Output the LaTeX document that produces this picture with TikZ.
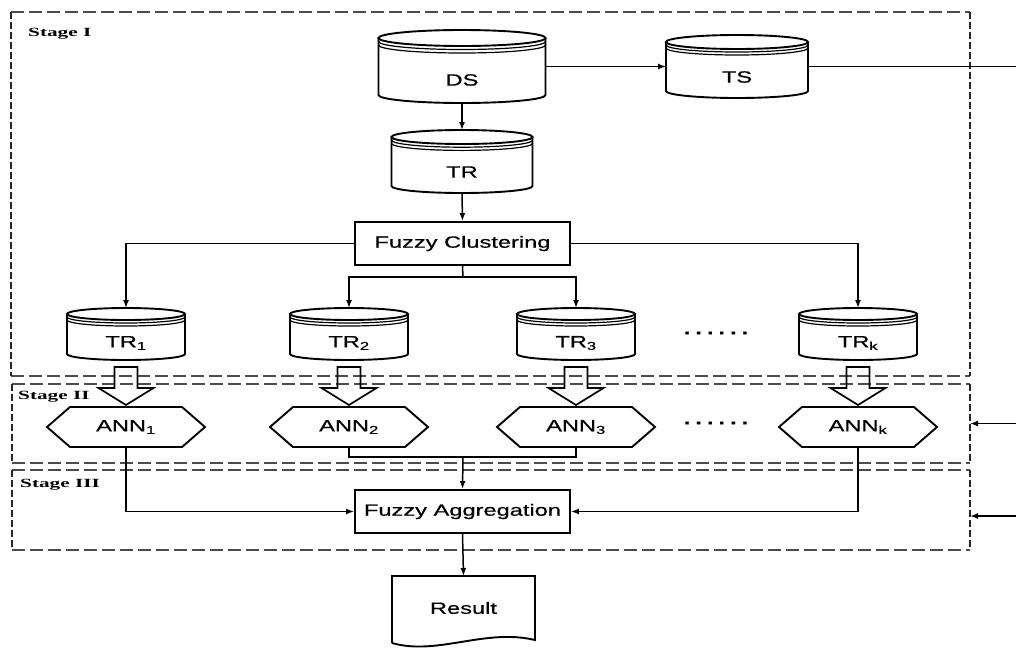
\documentclass[tikz,border=0pt]{standalone}
\usepackage{fontspec}
\newfontfamily\diagsans[FakeStretch=1.45,FakeBold=0.6]{Liberation Sans}
\newfontfamily\diagserif[FakeStretch=1.7]{Liberation Serif}
\usetikzlibrary{calc,arrows.meta}
\begin{document}
\begin{tikzpicture}[x=1pt,y=1pt,
  outl/.style={line width=1.9pt, draw=black},
  conn/.style={line width=1.5pt, draw=black},
  arr/.style={conn, -{Latex[length=8pt,width=6pt]}},
  ghost/.style={rectangle, inner sep=0pt, outer sep=0pt, draw=none},
  txt/.style={font=\diagsans\fontsize{16.3}{18}\selectfont, inner sep=1pt},
  procbox/.style={rectangle, outl, inner sep=0pt, font=\diagsans\fontsize{16.3}{18}\selectfont},
  stg/.style={font=\diagserif\bfseries\fontsize{12.5}{14}\selectfont, anchor=west, inner sep=0pt},
  hdash/.style={line width=2.2pt, draw=black!70, dash pattern=on 13pt off 5pt},
  vdash/.style={line width=2.2pt, draw=black!85, dash pattern=on 7pt off 3pt},
  hollow/.style={line width=1.7pt, draw=black, line join=miter},
]
\useasboundingbox (0,0) rectangle (1016,-648);

% ---------- stage boxes ----------
\node[ghost, minimum width=959pt, minimum height=364pt] (S1) at (490.5,-194) {};
\node[ghost, minimum width=958pt, minimum height=79pt] (S2) at (491,-423.5) {};
\node[ghost, minimum width=958pt, minimum height=80pt] (S3) at (491,-510) {};
\foreach \s in {S1,S2,S3} {
  \draw[hdash] (\s.north west) -- (\s.north east);
  \draw[hdash] (\s.south west) -- (\s.south east);
  \draw[vdash] (\s.north west) -- (\s.south west);
  \draw[vdash] (\s.north east) -- (\s.south east);
}
\node[stg] (L1) at (28,-34) {Stage I};
\node[stg] (L2) at (18,-397) {Stage II};
\node[stg] (L3) at (20,-485) {Stage III};

% ---------- cylinders ----------
\node[ghost, minimum width=167pt, minimum height=73pt] (DS) at (462,-66.5) {};
\node[ghost, minimum width=142pt, minimum height=63pt] (TS) at (737,-66.5) {};
\node[ghost, minimum width=141pt, minimum height=63pt] (TR) at (462,-161.5) {};
\node[ghost, minimum width=118pt, minimum height=52pt] (TR1) at (126,-334) {};
\node[ghost, minimum width=118pt, minimum height=52pt] (TR2) at (349,-334) {};
\node[ghost, minimum width=118pt, minimum height=52pt] (TR3) at (576,-334) {};
\node[ghost, minimum width=118pt, minimum height=52pt] (TRk) at (858,-334) {};
\foreach \n/\w/\r/\d in {DS/167/8/3.5, TS/142/7/3, TR/141/7/3.2, TR1/118/6/3, TR2/118/6/3, TR3/118/6/3, TRk/118/6/3} {
  \draw[outl] ($(\n.north)+(0,-\r)$) ellipse [x radius=\w/2, y radius=\r];
  \draw[outl] ($(\n.north west)+(0,-\r)$) -- ($(\n.south west)+(0,\r)$)
     arc[start angle=180, end angle=360, x radius=\w/2, y radius=\r]
     -- ($(\n.north east)+(0,-\r)$);
  \draw[line width=1.2pt] ($(\n.north west)+(0,-\r-\d)$) arc[start angle=180, end angle=360, x radius=\w/2, y radius=\r];
  \draw[line width=1.2pt] ($(\n.north west)+(0,-\r-2*\d)$) arc[start angle=180, end angle=360, x radius=\w/2, y radius=\r];
}
\node[txt] (DSt) at ($(DS.center)+(0,-13.5)$) {DS};
\node[txt] (TSt) at ($(TS.center)+(0,-10.5)$) {TS};
\node[txt] (TRt) at ($(TR.center)+(0,-10.5)$) {TR};
\node[txt] (TR1t) at ($(TR1.center)+(0,-9)$) {TR\textsubscript{1}};
\node[txt] (TR2t) at ($(TR2.center)+(0,-9)$) {TR\textsubscript{2}};
\node[txt] (TR3t) at ($(TR3.center)+(0,-9)$) {TR\textsubscript{3}};
\node[txt] (TRkt) at ($(TRk.center)+(0,-9)$) {TR\textsubscript{k}};

% ---------- boxes ----------
\node[procbox, minimum width=215pt, minimum height=43pt] (FC) at (462.5,-243.5) {Fuzzy Clustering};
\node[procbox, minimum width=215pt, minimum height=43pt] (FA) at (462.5,-511.5) {Fuzzy Aggregation};

% ---------- ANN hexagons ----------
\foreach \i/\x in {1/126, 2/349, 3/576, k/858} {
  \node[ghost, minimum width=158pt, minimum height=40pt, font=\diagsans\fontsize{16.3}{18}\selectfont] (ANN\i) at (\x,-427) {ANN\textsubscript{\i}};
  \draw[outl, line join=miter] (ANN\i.west) -- ($(ANN\i.north west)+(23,0)$) -- ($(ANN\i.north east)+(-23,0)$)
     -- (ANN\i.east) -- ($(ANN\i.south east)+(-23,0)$) -- ($(ANN\i.south west)+(23,0)$) -- cycle;
}

% ---------- dots ----------
\node[txt, font=\diagsans\bfseries\fontsize{16.3}{18}\selectfont] (dots1) at (716,-333) {.\kern5pt.\kern5pt.\kern5pt.\kern5pt.\kern5pt.};
\node[txt, font=\diagsans\bfseries\fontsize{16.3}{18}\selectfont] (dots2) at (716,-423) {.\kern5pt.\kern5pt.\kern5pt.\kern5pt.\kern5pt.};

% ---------- result document ----------
\node[ghost, minimum width=143pt, minimum height=64pt, font=\diagsans\fontsize{16.3}{18}\selectfont] (Res) at (463.5,-608) {Result};
\draw[outl, line join=miter] ($(Res.south west)+(0,-3)$) -- (Res.north west) -- (Res.north east) -- (Res.south east)
  .. controls ($(Res.south east)+(-50,12)$) and ($(Res.south west)+(45,-16)$) .. ($(Res.south west)+(0,-3)$);

% ---------- connectors ----------
\draw[arr] (DS.east) -- (TS.west);
\coordinate (outTS) at (1016,-66.5);
\draw[conn] (TS.east) -- (outTS);
\draw[arr] (DS.south) -- (TR.north);
\draw[arr] (TR.south) -- (FC.north);
\draw[arr] (FC.west) -| (TR1.north);
\draw[arr] (FC.east) -| (TRk.north);
\coordinate (split) at (463,-277);
\draw[conn] (FC.south) -- (split);
\draw[arr] (split) -| (TR2.north);
\draw[arr] (split) -| (TR3.north);

\foreach \i in {1,2,3,k} {
  \draw[hollow] ($(TR\i.south)+(-11.5,-7)$) -- ++(0,-21) -- ++(-16,0) -- ++(27.5,-17) -- ++(27.5,17) -- ++(-16,0) -- ++(0,21) -- cycle;
}

\coordinate (merge) at (463,-457);
\draw[conn] (ANN2.south) -- ++(0,-10) -| (ANN3.south);
\draw[arr] (merge) -- (FA.north);
\draw[arr] (ANN1.south) |- (FA.west);
\draw[arr] (ANNk.south) |- (FA.east);
\draw[arr] (FA.south) -- (Res.north);

\coordinate (in2) at (1016,-423.5);
\coordinate (in3) at (1016,-516);
\draw[arr] (in2) -- (S2.east);
\draw[arr] (in3) -- (S3.east |- in3);
\end{tikzpicture}
\end{document}
